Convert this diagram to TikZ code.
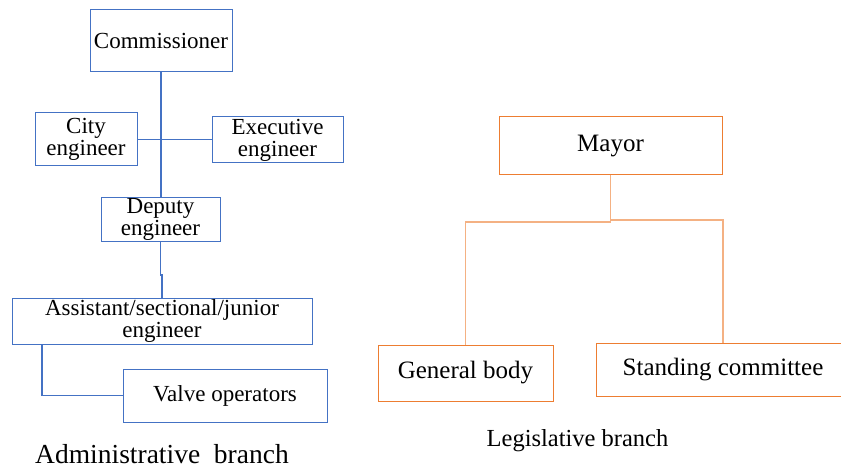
\documentclass[tikz,border=0pt]{standalone}
\usepackage{fontspec}
\setmainfont{Liberation Serif}
\definecolor{adminblue}{HTML}{4472C4}
\definecolor{legorange}{HTML}{ED7D31}
\definecolor{leglight}{HTML}{F4B183}
\tikzset{
  box/.style={rectangle, inner sep=0pt, outer sep=0pt, align=center, line width=1pt,
    font=\fontsize{23}{22}\selectfont},
  bluebox/.style={box, draw=adminblue},
  orangebox/.style={box, draw=legorange, font=\fontsize{25}{24}\selectfont},
  blueline/.style={draw=adminblue, line width=1.5pt},
  orangeline/.style={draw=leglight, line width=1.6pt},
  caption/.style={anchor=base, inner sep=0pt}
}
\begin{document}
\begin{tikzpicture}[x=1pt, y=-1pt]
\useasboundingbox (0,0) rectangle (841,468);
\clip (0,0) rectangle (841,468);
% Administrative branch
\node[bluebox, minimum width=142pt, minimum height=62pt] (comm) at (161,41) {Commissioner};
\node[bluebox, minimum width=102pt, minimum height=53pt] (city) at (86,139.5) {City\\engineer};
\node[bluebox, minimum width=131pt, minimum height=46pt] (exec) at (277.5,140) {Executive\\engineer};
\node[bluebox, minimum width=119pt, minimum height=44pt] (dep) at (160.5,219) {Deputy\\engineer};
\node[bluebox, minimum width=300pt, minimum height=46pt] (asst) at (162,321) {Assistant/sectional/junior\\engineer};
\node[bluebox, minimum width=204pt, minimum height=53pt] (valve) at (225,395.5) {Valve operators};
\draw[blueline] (comm.south) -- (comm.south |- dep.north);
\draw[blueline] (city.east) -- (city.east -| exec.west);
\draw[blueline] (dep.south) -- ++(0,34) -| (asst.north);
\draw[blueline] ([xshift=30pt]asst.south west) |- (valve.west);
\node[caption, font=\fontsize{27.5}{28}\selectfont] (admlabel) at (162,463) {Administrative\ \ branch};
% Legislative branch
\node[orangebox, minimum width=223pt, minimum height=58pt] (mayor) at (610.5,146) {Mayor};
\node[orangebox, minimum width=175pt, minimum height=56pt] (gen) at (465.5,373) {General body};
\node[orangebox, minimum width=254pt, minimum height=53pt] (stand) at (723,369.5) {Standing committee};
\draw[orangeline] (mayor.south) -- ++(0,47) -| (gen.north);
\draw[orangeline] (mayor.south) -- ++(0,45) -| (stand.north);
\node[caption, font=\fontsize{24.5}{24}\selectfont] (leglabel) at (577.5,446) {Legislative branch};
\end{tikzpicture}
\end{document}
